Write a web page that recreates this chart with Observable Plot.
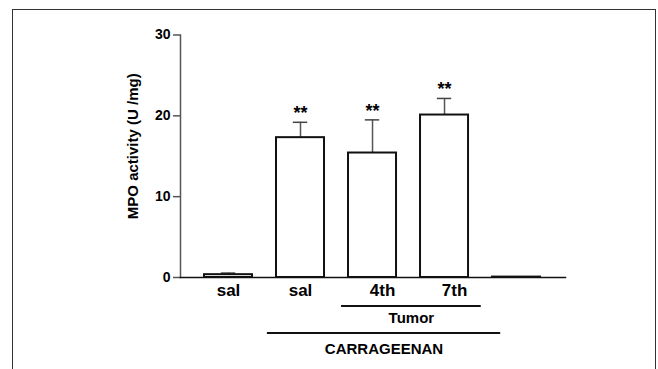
<!DOCTYPE html>
<html>
<head>
<meta charset="utf-8">
<script src="https://cdn.jsdelivr.net/npm/d3@7"></script>
<script src="https://cdn.jsdelivr.net/npm/@observablehq/plot@0.6"></script>
<style>
  html, body { margin: 0; padding: 0; background: #fff; }
  #wrap { position: relative; width: 658px; height: 369px; overflow: hidden; }
  #border { position: absolute; left: 12px; top: 9px; width: 644px; height: 420px;
            box-sizing: border-box; border: 1.5px solid #333; pointer-events: none; }
</style>
</head>
<body>
<div id="wrap"><div id="border"></div></div>
<script>
// ---- data ----
const groups = ["sal", "sal", "4th", "7th", ""];
const means  = [0.35, 17.3, 15.4, 20.1, 0.05];
const sems   = [0.2, 1.9, 4.1, 2.05, 0];
const stars  = ["", "**", "**", "**", ""];
const yTicks = [0, 10, 20, 30];
const yLabel = "MPO activity (U /mg)";
// bracket annotations under the axis (extent in bar-index units)
const bracketLabels = ["Tumor", "CARRAGEENAN"];
const bracketFrom   = [1.57, 0.54];
const bracketTo     = [3.51, 3.78];

const bars = groups.map((g, i) => ({i, g, mean: means[i], sem: sems[i], star: stars[i]}));
const brackets = bracketLabels.map((label, k) => ({label, from: bracketFrom[k], to: bracketTo[k], mid: (bracketFrom[k] + bracketTo[k]) / 2}));
const half = 1 / 3;   // bar half-width in index units
const cap = 0.1;      // error cap half-width

const chart = Plot.plot({
  width: 658,
  height: 369,
  marginLeft: 180,
  marginRight: 93,
  marginTop: 34.5,
  marginBottom: 92,
  style: {fontFamily: "'Liberation Sans', Arial, sans-serif", fontWeight: "bold", fontSize: "13px", color: "#000", background: "transparent"},
  x: {domain: [-2 / 3, groups.length - 1 + 0.68], axis: null},
  y: {domain: [0, 30], axis: null},
  marks: [
    // y axis
    Plot.frame({anchor: "left", stroke: "#555", strokeWidth: 1.5}),
    Plot.axisY(yTicks, {tickSize: 7, tickPadding: 3, stroke: "#555", strokeWidth: 1.5, label: null, fontSize: 14, fontWeight: "bold", letterSpacing: 1.5}),
    // error bars
    Plot.ruleX(bars.filter(d => d.sem > 0), {x: "i", y1: "mean", y2: d => d.mean + d.sem, stroke: "#555", strokeWidth: 1.5}),
    Plot.ruleY(bars.filter(d => d.sem > 0), {x1: d => d.i - cap, x2: d => d.i + cap, y: d => d.mean + d.sem, stroke: "#444", strokeWidth: 1.5}),
    // bars
    Plot.rect(bars, {x1: d => d.i - half, x2: d => d.i + half, y1: 0, y2: "mean", fill: "white", stroke: "#111", strokeWidth: 2}),
    // baseline
    Plot.frame({anchor: "bottom", stroke: "#111", strokeWidth: 1.5}),
    // significance
    Plot.text(bars.filter(d => d.star), {x: "i", y: d => d.mean + d.sem, text: "star", dy: -9, fontSize: 18, fontWeight: "bold", letterSpacing: 2}),
    // category labels
    Plot.text(bars.filter(d => d.g === "sal"), {x: "i", y: () => 0, text: "g", dy: 13, fontSize: 17, fontWeight: "bold", letterSpacing: 1}),
    Plot.text(bars.filter(d => d.g && d.g !== "sal"), {x: "i", y: () => 0, text: "g", dx: 10, dy: 13, fontSize: 17, fontWeight: "bold", letterSpacing: 2}),
    // brackets
    Plot.ruleY(brackets.slice(0, 1), {x1: "from", x2: "to", y: () => 0, dy: 28.5, stroke: "#111", strokeWidth: 2}),
    Plot.text(brackets.slice(0, 1), {x: "mid", y: () => 0, text: "label", dy: 40.5, fontSize: 15, fontWeight: "bold", letterSpacing: 1.3}),
    Plot.ruleY(brackets.slice(1), {x1: "from", x2: "to", y: () => 0, dy: 55.5, stroke: "#111", strokeWidth: 2}),
    Plot.text(brackets.slice(1), {x: "mid", y: () => 0, text: "label", dy: 71.5, fontSize: 15, fontWeight: "bold", letterSpacing: 1.2}),
    // y label
    Plot.text([yLabel], {frameAnchor: "left", textAnchor: "middle", rotate: -90, dx: -47, dy: -10, fontSize: 15, fontWeight: "bold"})
  ]
});
document.getElementById("wrap").prepend(chart);
</script>
</body>
</html>
